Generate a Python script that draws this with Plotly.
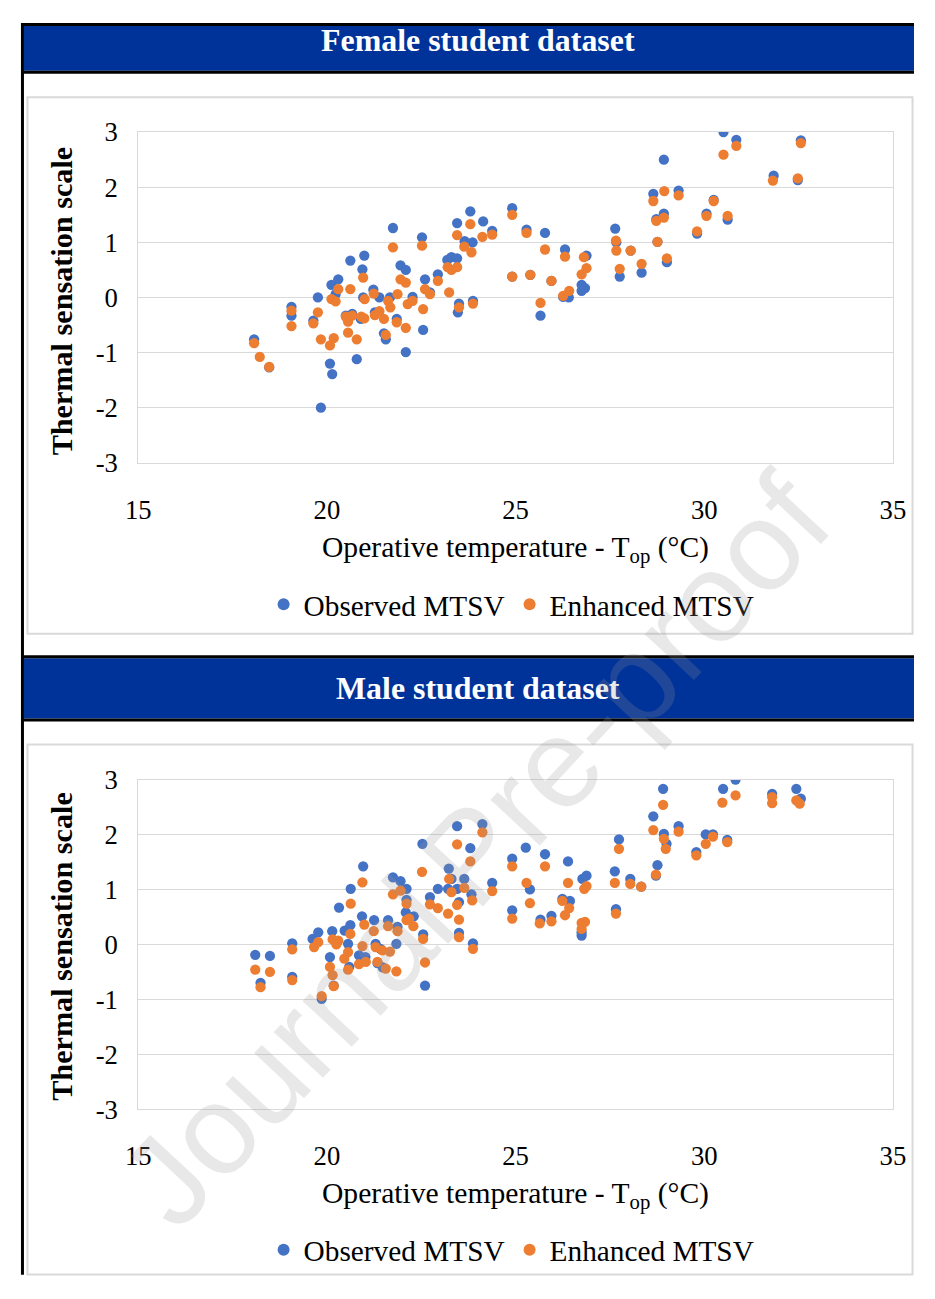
import math
import plotly.graph_objects as go

# ---------------- data ----------------
female_obs_t = [18.07, 18.47, 19.06, 19.06, 19.64, 19.76, 19.84, 20.08, 20.14, 20.12, 20.30, 20.23,
                20.62, 20.99, 20.94, 20.50, 20.67, 20.90, 20.79, 21.23, 21.39, 20.96, 21.27, 21.51,
                21.56, 21.75, 21.67, 21.85, 21.95, 22.09, 22.09, 22.27, 22.52, 22.60, 22.55, 22.73,
                22.94, 23.19, 23.30, 23.45, 23.45, 23.80, 23.65, 23.86, 23.50, 23.47, 23.87, 24.14,
                24.38, 24.91, 24.91, 25.29, 25.39, 25.78, 25.66, 25.95, 26.31, 26.26, 26.41, 26.88,
                26.75, 26.84, 26.75, 27.64, 27.67, 27.76, 28.05, 28.34, 28.65, 28.93, 28.93, 28.73,
                28.76, 29.01, 29.32, 29.81, 30.06, 30.25, 30.51, 30.62, 30.85, 31.84, 32.48, 32.56]
female_obs_v = [-0.76, -1.27, -0.17, -0.33, -0.42, 0.00, -2.00, -1.20, -1.39, 0.23, 0.33, 0.06,
                0.67, 0.76, 0.51, -0.33, -0.30, -0.39, -1.12, 0.14, 0.00, 0.00, -0.27, -0.65,
                -0.76, 1.26, 0.00, -0.39, 0.58, 0.50, -0.99, 0.01, 1.09, 0.33, -0.59, 0.09,
                0.42, 0.68, 0.73, 0.71, 1.35, 1.56, 1.02, 1.00, -0.11, -0.27, -0.06, 1.38,
                1.21, 1.62, 0.38, 1.23, 0.41, 1.17, -0.33, 0.30, 0.87, 0.01, 0.00, 0.76,
                0.23, 0.17, 0.12, 1.25, 1.00, 0.38, 0.85, 0.45, 1.88, 2.50, 1.52, 1.42,
                1.01, 0.64, 1.94, 1.16, 1.52, 1.77, 3.00, 1.41, 2.86, 2.21, 2.13, 2.85]

female_enh_t = [18.07, 18.22, 18.47, 19.06, 19.06, 19.64, 19.76, 19.84, 20.08, 20.18, 20.12, 20.23,
                20.30, 20.62, 20.50, 20.56, 20.67, 20.91, 20.99, 20.56, 20.79, 20.96, 21.00, 21.24,
                21.27, 21.39, 21.51, 21.56, 21.62, 21.68, 21.75, 21.85, 21.87, 21.95, 22.09, 22.14,
                22.27, 22.09, 22.52, 22.55, 22.60, 22.73, 22.94, 23.24, 23.20, 23.30, 23.45, 23.45,
                23.80, 23.64, 23.83, 23.50, 23.87, 24.12, 24.38, 24.91, 24.91, 25.29, 25.39, 25.78,
                25.66, 25.95, 26.31, 26.26, 26.42, 26.81, 26.75, 26.88, 27.66, 27.67, 27.76, 28.05,
                28.34, 28.65, 28.94, 28.73, 28.93, 28.76, 29.01, 29.32, 29.81, 30.06, 30.25, 30.51,
                30.62, 30.85, 31.82, 32.48, 32.56]
female_enh_v = [-0.83, -1.08, -1.26, -0.24, -0.52, -0.47, -0.27, -0.76, -0.87, -0.74, -0.03, -0.07,
                0.15, 0.15, -0.35, -0.44, -0.33, -0.35, -0.38, -0.64, -0.76, 0.36, -0.03, 0.07,
                -0.32, -0.25, -0.39, -0.68, -0.06, -0.18, 0.91, -0.45, 0.06, 0.33, 0.27, -0.12,
                -0.06, -0.55, 0.94, -0.21, 0.15, 0.06, 0.30, 0.09, 0.55, 0.50, 0.55, 1.13,
                1.33, 0.92, 0.82, -0.18, -0.11, 1.10, 1.14, 1.50, 0.38, 1.17, 0.41, 0.87,
                -0.10, 0.30, 0.74, 0.03, 0.12, 0.73, 0.42, 0.53, 1.03, 0.85, 0.52, 0.85,
                0.61, 1.75, 1.93, 1.39, 1.45, 1.01, 0.71, 1.85, 1.20, 1.48, 1.75, 2.59,
                1.48, 2.75, 2.12, 2.16, 2.80]

male_obs_t = [18.10, 18.49, 18.24, 19.08, 19.08, 19.62, 19.77, 19.86, 20.08, 20.18, 20.14, 20.32,
              20.47, 20.62, 20.56, 20.63, 20.96, 20.93, 21.25, 20.85, 21.02, 20.59, 21.29, 21.42,
              21.34, 21.48, 21.62, 21.84, 21.87, 21.75, 21.95, 22.11, 22.11, 22.09, 22.30, 22.53,
              22.55, 22.60, 22.73, 22.94, 23.23, 23.30, 23.21, 23.45, 23.64, 23.45, 23.80, 24.12,
              23.87, 23.50, 23.50, 23.83, 24.38, 24.91, 24.91, 25.27, 25.38, 25.78, 25.66, 25.95,
              26.39, 26.24, 26.44, 26.77, 26.88, 26.75, 26.75, 27.63, 27.66, 27.74, 28.04, 28.33,
              28.72, 28.76, 28.65, 28.91, 28.93, 29.00, 29.32, 29.79, 30.04, 30.23, 30.61, 30.50,
              30.83, 31.80, 32.44, 32.56]
male_obs_v = [-0.19, -0.21, -0.70, 0.02, -0.59, 0.10, 0.22, -0.99, -0.23, -0.75, 0.24, 0.67,
              0.25, 0.35, 0.01, 1.01, 1.42, 0.51, 0.44, -0.20, -0.23, -0.41, 0.01, -0.08,
              -0.34, -0.42, 0.44, 0.01, 0.32, 1.22, 1.15, 1.01, 0.81, 0.58, 0.51, 1.83,
              0.18, -0.75, 0.86, 1.01, 1.38, 1.19, 1.01, 1.01, 1.19, 2.15, 1.75, 2.19,
              0.02, 0.21, 0.77, 0.91, 1.12, 1.56, 0.62, 1.76, 1.00, 1.64, 0.45, 0.52,
              1.51, 0.83, 0.79, 1.19, 1.25, 0.16, 0.22, 1.33, 0.64, 1.91, 1.19, 1.05,
              1.25, 1.44, 2.33, 2.83, 2.01, 1.83, 2.15, 1.68, 2.00, 2.00, 1.90, 2.83,
              3.00, 2.74, 2.83, 2.65]

male_enh_t = [18.10, 18.49, 18.24, 19.08, 19.08, 19.66, 19.77, 19.86, 20.08, 20.15, 20.18, 20.15,
              20.30, 20.25, 20.63, 20.62, 20.56, 20.46, 20.56, 20.94, 20.94, 20.99, 20.85, 21.03,
              21.24, 21.29, 21.34, 21.47, 21.67, 21.56, 21.62, 21.84, 21.87, 21.75, 21.95, 22.11,
              22.11, 22.18, 22.29, 22.52, 22.55, 22.60, 22.73, 22.94, 23.21, 23.24, 23.30, 23.45,
              23.64, 23.45, 23.50, 23.50, 23.80, 23.85, 23.87, 24.12, 24.38, 24.91, 24.91, 25.29,
              25.38, 25.78, 25.64, 25.95, 26.39, 26.24, 26.42, 26.31, 26.82, 26.88, 26.75, 26.84,
              26.75, 27.63, 27.66, 27.74, 28.04, 28.33, 28.72, 28.65, 28.91, 28.93, 28.98, 29.32,
              29.79, 30.04, 30.23, 30.61, 30.48, 30.83, 31.80, 31.80, 32.44, 32.53]
male_enh_v = [-0.46, -0.50, -0.78, -0.09, -0.65, -0.05, 0.04, -0.94, -0.41, -0.56, -0.76, 0.09,
              0.07, 0.00, 0.74, 0.19, -0.14, -0.26, -0.46, 1.13, -0.03, 0.36, -0.36, -0.32,
              0.24, -0.05, -0.32, -0.11, -0.13, -0.44, 0.33, -0.49, 0.24, 0.91, 0.98, 0.74,
              0.44, 0.47, 0.33, 1.32, 0.10, -0.33, 0.73, 0.66, 0.56, 1.19, 0.95, 1.82,
              1.03, 0.72, 0.45, 0.13, 1.51, 0.80, -0.08, 2.04, 0.97, 1.42, 0.47, 1.12,
              0.75, 1.42, 0.38, 0.42, 1.12, 0.79, 0.66, 0.53, 1.01, 1.06, 0.39, 0.41,
              0.28, 1.12, 0.56, 1.74, 1.10, 1.05, 1.27, 2.08, 2.54, 1.92, 1.74, 2.05,
              1.62, 1.83, 1.96, 1.86, 2.58, 2.71, 2.68, 2.57, 2.62, 2.56]

panel_titles = ["Female student dataset", "Male student dataset"]
series_names = ["Observed MTSV", "Enhanced MTSV"]
x_ticks = [15, 20, 25, 30, 35]
y_ticks = [-3, -2, -1, 0, 1, 2, 3]
y_tick_labels = ["-3", "-2", "-1", "0", "1", "2", "3"]
watermark_words = ["Journal", "Pre-proof"]

# ---------------- style / placement ----------------
# Target positions are written in pixels of the 935x1299 picture. The figure is
# 919x1283 (the page keeps its 8px body margin); in the photographed page the
# figure appears shifted by about (20.5, 21.8) px and scaled by about (0.9735, 0.9775),
# so target pixels are converted back into figure fractions with that mapping.
FW, FH = 919, 1283
AX, SX = 20.5, 0.9735
AY, SY = 21.8, 0.9775
K = 1 / 0.975          # font / marker size compensation
BLUE = "#4472C4"
ORANGE = "#ED7D31"
HEADER = "#003399"
GRID = "#d9d9d9"
SERIF = "Liberation Serif, Times New Roman, serif"


def px(x):
    return min(max((x - AX) / SX / FW, 0.0), 1.0)


def py(y):
    return min(max(1 - (y - AY) / SY / FH, 0.0), 1.0)


fig = go.Figure()

panels = [
    dict(plot_top=131, plot_bot=462, head_top=9.5, head_bot=69.5, box_top=96, box_bot=633,
         xtitle=549, legend=604, ytitle=300),
    dict(plot_top=779, plot_bot=1109, head_top=657.5, head_bot=718, box_top=744, box_bot=1278,
         xtitle=1195, legend=1250, ytitle=946),
]
PLOT_L, PLOT_R = 138, 894

data = [
    (female_obs_t, female_obs_v, female_enh_t, female_enh_v),
    (male_obs_t, male_obs_v, male_enh_t, male_enh_v),
]

shapes = []
annotations = []
for i, (p, d) in enumerate(zip(panels, data)):
    ax = "" if i == 0 else str(i + 1)
    leg = "legend" if i == 0 else "legend2"
    fig.add_trace(go.Scatter(x=d[0], y=d[1], mode="markers", name=series_names[0],
                             marker=dict(color=BLUE, size=10 * K), xaxis="x" + ax,
                             yaxis="y" + ax, legend=leg))
    fig.add_trace(go.Scatter(x=d[2], y=d[3], mode="markers", name=series_names[1],
                             marker=dict(color=ORANGE, size=10 * K), xaxis="x" + ax,
                             yaxis="y" + ax, legend=leg))
    axis_common = dict(showgrid=True, gridcolor=GRID, gridwidth=1, zeroline=False,
                       showline=True, linecolor=GRID, linewidth=1, mirror=True, ticks="",
                       tickfont=dict(family=SERIF, size=26 * K, color="black"))
    fig.update_layout(**{
        "xaxis" + ax: dict(axis_common, domain=[px(PLOT_L), px(PLOT_R)], range=[15, 35],
                           tickvals=x_ticks, showgrid=False, anchor="y" + ax,
                           ticklabelstandoff=23),
        "yaxis" + ax: dict(axis_common, domain=[py(p["plot_bot"]), py(p["plot_top"])],
                           range=[-3, 3], tickvals=y_ticks, ticktext=y_tick_labels,
                           anchor="x" + ax, ticklabelstandoff=14),
        leg: dict(orientation="h", x=px(512), xanchor="center", y=py(p["legend"]),
                  yanchor="middle", font=dict(family=SERIF, size=29.3, color="black"),
                  bgcolor="rgba(0,0,0,0)", itemsizing="constant"),
    })
    shapes.append(dict(type="rect", xref="paper", yref="paper", x0=3 / FW, x1=1.0,
                       y0=py(p["head_bot"]), y1=min(py(p["head_top"]), 1 - 3 / FH),
                       fillcolor=HEADER, line=dict(width=0), layer="above"))
    for yy in (p["head_top"] - 1.5, p["head_bot"] + 1.5):
        shapes.append(dict(type="line", xref="paper", yref="paper", x0=0.0, x1=1.0,
                           y0=min(py(yy), 1 - 1.5 / FH), y1=min(py(yy), 1 - 1.5 / FH),
                           line=dict(color="black", width=3), layer="above"))
    shapes.append(dict(type="rect", xref="paper", yref="paper", x0=px(27),
                       x1=min(px(929), 1 - 1.5 / FW),
                       y0=max(py(p["box_bot"]), 1.5 / FH), y1=py(p["box_top"]),
                       line=dict(color=GRID, width=2), fillcolor="rgba(0,0,0,0)", layer="below"))
    annotations.append(dict(text="<b>" + panel_titles[i] + "</b>", xref="paper", yref="paper",
                            x=px(478), y=py((p["head_top"] + p["head_bot"]) / 2),
                            xanchor="center", yanchor="middle", showarrow=False,
                            font=dict(family=SERIF, size=31.9, color="white")))
    annotations.append(dict(text="Operative temperature - T<sub>op</sub> (°C)", xref="paper",
                            yref="paper", x=px(516), y=py(p["xtitle"]), xanchor="center",
                            yanchor="middle", showarrow=False,
                            font=dict(family=SERIF, size=29.6, color="black")))
    annotations.append(dict(text="<b>Thermal sensation scale</b>", xref="paper", yref="paper",
                            x=px(62), y=py(p["ytitle"]), xanchor="center", yanchor="middle",
                            textangle=-90, showarrow=False,
                            font=dict(family=SERIF, size=30.2, color="black")))

# outer left border
shapes.append(dict(type="line", xref="paper", yref="paper", x0=1.5 / FW, x1=1.5 / FW,
                   y0=0.001, y1=1.0, line=dict(color="black", width=3), layer="above"))

# watermark (two rotated words along one diagonal)
WM_ANGLE = 47
wm_centres = [(287, 1052), (625, 689)]
for word, (cx, cy) in zip(watermark_words, wm_centres):
    annotations.append(dict(text=word, xref="paper", yref="paper", x=px(cx), y=py(cy),
                            xanchor="center", yanchor="middle", textangle=-WM_ANGLE,
                            showarrow=False,
                            font=dict(family="Liberation Sans, Arial, sans-serif", size=124 * K,
                                      color="rgba(150,150,150,0.22)")))

fig.update_layout(width=FW, height=FH, margin=dict(l=0, r=0, t=0, b=0),
                  paper_bgcolor="white", plot_bgcolor="white",
                  shapes=shapes, annotations=annotations, showlegend=True)

fig.write_html("out.html", config={"displayModeBar": False})
